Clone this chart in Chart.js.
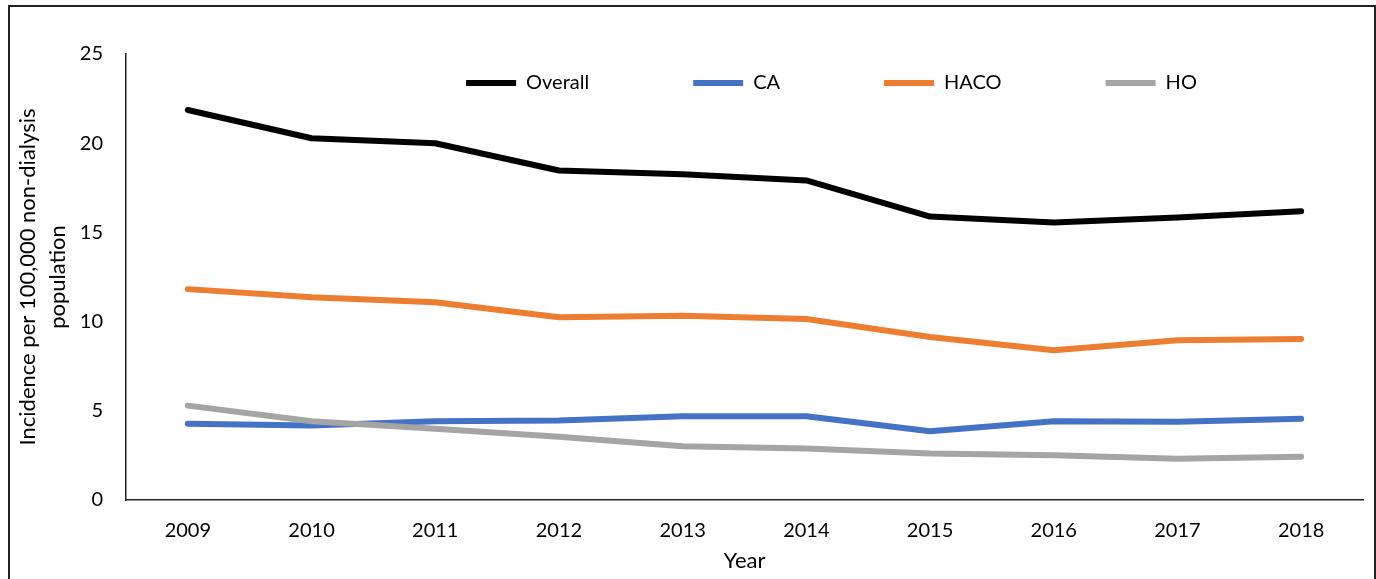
<!DOCTYPE html>
<html>
<head>
<meta charset="utf-8">
<script src="https://cdn.jsdelivr.net/npm/chart.js@4"></script>
<style>
  html, body { margin: 0; padding: 0; background: #fff; }
  #wrap { position: relative; width: 1376px; height: 579px; overflow: hidden; }
  #frame { position: absolute; left: 8px; top: 5px; width: 1364px; height: 600px; border: 2px solid #222; pointer-events: none; }
</style>
</head>
<body>
<div id="wrap">
  <canvas id="incidenceChart"></canvas>
  <div id="frame"></div>
</div>
<script>
// Data
const years = ['2009', '2010', '2011', '2012', '2013', '2014', '2015', '2016', '2017', '2018'];
const overall = [21.86, 20.28, 20.0, 18.47, 18.26, 17.91, 15.89, 15.56, 15.84, 16.19];
const ca = [4.27, 4.17, 4.41, 4.45, 4.69, 4.69, 3.85, 4.41, 4.38, 4.55];
const haco = [11.82, 11.36, 11.08, 10.24, 10.33, 10.15, 9.14, 8.39, 8.95, 9.03];
const ho = [5.29, 4.41, 4.0, 3.54, 3.01, 2.88, 2.6, 2.51, 2.31, 2.42];
const yTicks = [0, 5, 10, 15, 20, 25];

const fontFamily = 'Lato, "Open Sans", sans-serif';

function lineSet(label, data, color, order) {
    return {
        label: label,
        data: data,
        borderColor: color,
        backgroundColor: color,
        borderWidth: 6,
        borderCapStyle: 'round',
        borderJoinStyle: 'round',
        pointRadius: 0,
        pointHoverRadius: 0,
        tension: 0,
        fill: false,
        order: order
    };
}

// Legend row sits inside the plot area: it takes no layout space,
// then gets moved right and just below the top of the axis
const legendMover = {
    id: 'legendMover',
    afterInit(chart) {
        const lg = chart.legend;
        const fit = lg.fit;
        lg.fit = function () {
            fit.call(this);
            this.height = 0;
        };
    },
    afterLayout(chart) {
        const lg = chart.legend;
        const area = chart.chartArea;
        lg.left = area.left + 87;
        lg.right = area.right + 87;
        lg.top = area.top - 85;
        lg.bottom = area.top + 60;
        lg.width = lg.right - lg.left;
        lg.height = lg.bottom - lg.top;
    }
};

const ctx = document.getElementById('incidenceChart').getContext('2d');

new Chart(ctx, {
    type: 'line',
    data: {
        labels: years,
        datasets: [
            lineSet('Overall', overall, '#000000', 4),
            lineSet('CA', ca, '#4472C4', 3),
            lineSet('HACO', haco, '#ED7D31', 2),
            lineSet('HO', ho, '#A5A5A5', 1)
        ]
    },
    options: {
        responsive: true,
        maintainAspectRatio: false,
        animation: false,
        layout: {
            padding: { left: 0, top: 54, right: 13, bottom: 0 }
        },
        scales: {
            x: {
                offset: true,
                grid: { display: false, drawTicks: false },
                border: { display: true, color: '#222', width: 1.5 },
                ticks: {
                    color: '#000',
                    padding: 19,
                    maxRotation: 0,
                    font: { family: fontFamily, size: 20 }
                },
                title: {
                    display: true,
                    text: 'Year',
                    color: '#000',
                    padding: { top: 0, bottom: 5 },
                    font: { family: fontFamily, size: 22, lineHeight: '26px' }
                },
                afterFit: (scale) => { scale.height = 79; }
            },
            y: {
                min: 0,
                max: 25,
                grid: { display: false, drawTicks: false },
                border: { display: true, color: '#222', width: 1.5 },
                afterBuildTicks: (scale) => {
                    scale.ticks = yTicks.map(v => ({ value: v }));
                },
                ticks: {
                    color: '#000',
                    padding: 23,
                    font: { family: fontFamily, size: 20 }
                },
                title: {
                    display: true,
                    text: ['Incidence per 100,000 non-dialysis', 'population'],
                    color: '#000',
                    padding: { top: 13, bottom: 0 },
                    font: { family: fontFamily, size: 22, lineHeight: '30px' }
                },
                afterFit: (scale) => { scale.width = 126; }
            }
        },
        plugins: {
            legend: {
                position: 'top',
                align: 'center',
                labels: {
                    usePointStyle: true,
                    pointStyle: 'line',
                    pointStyleWidth: 50,
                    padding: 104,
                    color: '#000',
                    font: { family: fontFamily, size: 20 },
                    sort: (a, b) => a.datasetIndex - b.datasetIndex
                }
            },
            tooltip: { enabled: false }
        }
    },
    plugins: [legendMover]
});
</script>
</body>
</html>
